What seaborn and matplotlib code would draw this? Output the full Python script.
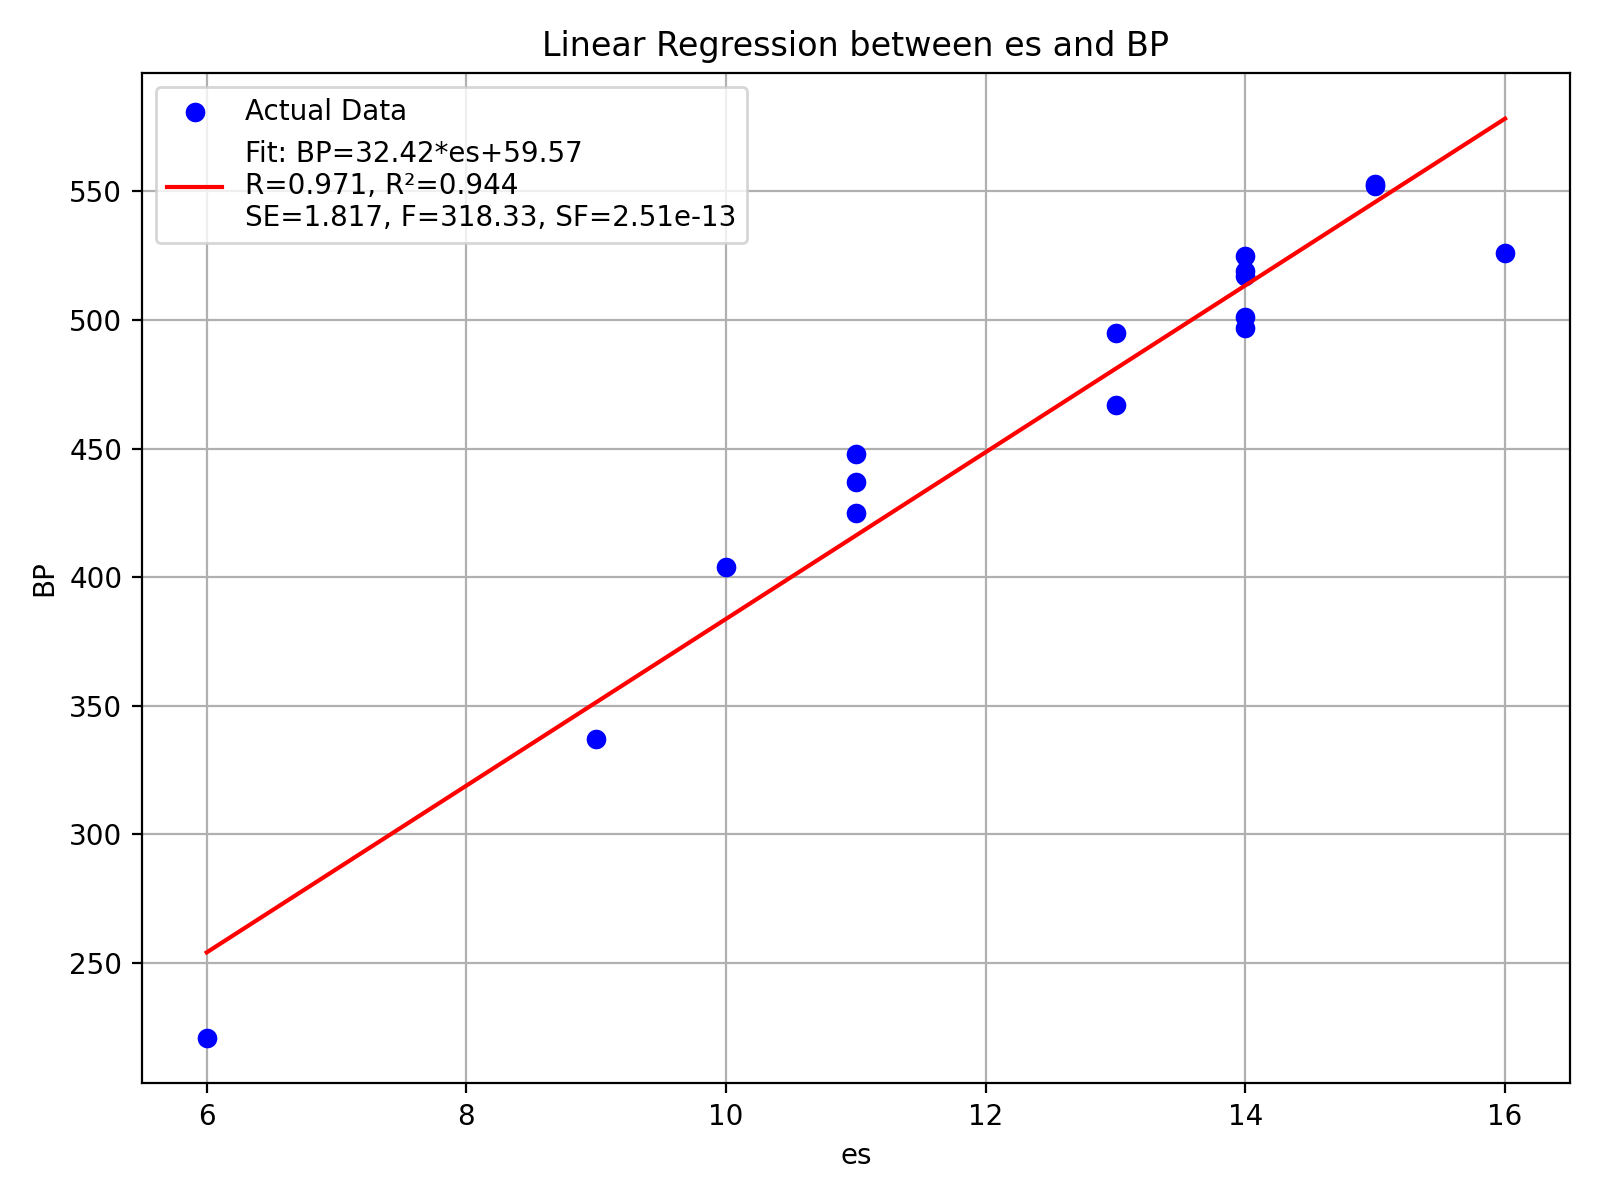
import numpy as np
import pandas as pd
import seaborn as sns
import matplotlib.pyplot as plt

# values
es = [6, 9, 10, 11, 11, 11, 13, 13, 14, 14, 14, 14, 14, 15, 15, 16]
bp = [221, 337, 404, 448, 437, 425, 495, 467, 525, 519, 517, 501, 497, 553, 552, 526]

slope = 32.42
intercept = 59.57
r_val = 0.971
r2_val = 0.944
se_val = 1.817
f_val = 318.33
sf_val = 2.51e-13

df = pd.DataFrame({'es': es, 'BP': bp})
df['fit'] = slope * df['es'] + intercept

fig, ax = plt.subplots(figsize=(8, 6), dpi=200)

sns.scatterplot(data=df, x='es', y='BP', color='blue', s=50, linewidth=0,
                label='Actual Data', ax=ax, zorder=3)
fit_label = (f"Fit: BP={slope:.2f}*es+{intercept:.2f}\n"
             f"R={r_val:.3f}, R\u00b2={r2_val:.3f}\n"
             f"SE={se_val:.3f}, F={f_val:.2f}, SF={sf_val:.2e}")
sns.lineplot(data=df, x='es', y='fit', color='red', estimator=None, sort=True,
             label=fit_label, ax=ax, zorder=4)

ax.set_title('Linear Regression between es and BP')
ax.set_xlabel('es')
ax.set_ylabel('BP')
ax.grid(True)
ax.set_axisbelow(True)
ax.legend(loc='upper left')

plt.tight_layout()
plt.savefig('out.png')
plt.close()
